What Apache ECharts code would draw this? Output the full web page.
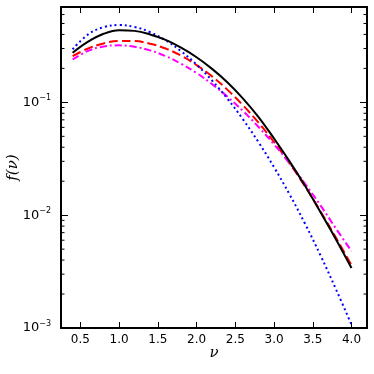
<!DOCTYPE html>
<html><head><meta charset="utf-8">
<script src="https://cdn.jsdelivr.net/npm/echarts@6/dist/echarts.min.js"></script>
<style>html,body{margin:0;padding:0;background:#fff}#c{width:374px;height:374px}</style>
</head><body><div id="c"></div>
<script>
const nu = [0.4,0.6,0.8,1.0,1.2,1.4,1.6,1.8,2.0,2.2,2.4,2.6,2.8,3.0,3.2,3.4,3.6,3.8,4.0];
const fBlack = [0.275,0.345,0.405,0.436,0.430,0.400,0.358,0.305,0.251,0.198,0.150,0.108,0.074,0.0478,0.0300,0.0182,0.0106,0.0061,0.0034];
const fBlue = [0.295,0.400,0.464,0.484,0.466,0.419,0.355,0.284,0.216,0.156,0.1075,0.0705,0.0443,0.0266,0.0153,0.0084,0.0044,0.0022,0.00107];
const fRed = [0.257,0.300,0.333,0.350,0.349,0.331,0.300,0.259,0.214,0.170,0.129,0.094,0.066,0.0445,0.0288,0.0180,0.0108,0.0063,0.0036];
const fMagenta = [0.240,0.286,0.313,0.320,0.311,0.289,0.257,0.220,0.182,0.145,0.112,0.0837,0.0605,0.0424,0.0289,0.0190,0.0122,0.0076,0.0048];
const xTicks = [0.5,1.0,1.5,2.0,2.5,3.0,3.5,4.0];
const yMinor = [0.002,0.003,0.004,0.005,0.006,0.007,0.008,0.009,0.02,0.03,0.04,0.05,0.06,0.07,0.08,0.09,0.2,0.3,0.4,0.5,0.6];
const xMin = 0.25, xMax = 4.2, yMin = 0.001, yMax = 0.7;

const pairs = arr => nu.map((v, i) => [v, arr[i]]);
const chart = echarts.init(document.getElementById('c'), null, {renderer: 'canvas'});
const axisLine = {show: true, lineStyle: {color: '#000', width: 2}};
const sup = e => (e < 0 ? '\u2212' : '') + Math.abs(e);

const option = {
  animation: false,
  backgroundColor: '#fff',
  grid: {left: 61, right: 7, top: 7, bottom: 46, containLabel: false, outerBoundsMode: 'none'},
  xAxis: [
    {type: 'value', min: xMin, max: xMax, position: 'bottom',
     axisLine, splitLine: {show: false},
     axisTick: {show: true, inside: true, length: 6, customValues: xTicks, lineStyle: {color: '#000', width: 1}},
     axisLabel: {customValues: xTicks, margin: 6, color: '#000', fontSize: 12, fontFamily: 'DejaVu Sans',
                 formatter: v => v.toFixed(1)},
     name: '\u03bd', nameLocation: 'middle', nameGap: 18, nameMoveOverlap: false,
     nameTextStyle: {fontFamily: 'DejaVu Serif', fontStyle: 'italic', fontSize: 15, color: '#000'}},
    {type: 'value', min: xMin, max: xMax, position: 'top',
     axisLine, splitLine: {show: false},
     axisTick: {show: true, inside: true, length: 6, customValues: xTicks, lineStyle: {color: '#000', width: 1}},
     axisLabel: {show: false}}
  ],
  yAxis: [
    {type: 'log', logBase: 10, min: yMin, max: yMax, position: 'left',
     axisLine, splitLine: {show: false}, minorTick: {show: false},
     axisTick: {show: true, inside: true, length: 7, lineStyle: {color: '#000', width: 1}},
     axisLabel: {margin: 10, showMaxLabel: false, color: '#000',
       formatter: v => '{b|10}{s|' + sup(Math.round(Math.log10(v))) + '}',
       rich: {b: {fontSize: 13, fontFamily: 'DejaVu Sans', color: '#000', lineHeight: 16},
              s: {fontSize: 8, fontFamily: 'DejaVu Sans', color: '#000', lineHeight: 8, verticalAlign: 'top'}}},
     name: 'f(\u03bd)', nameLocation: 'middle', nameGap: 40, nameRotate: 90, nameMoveOverlap: false,
     nameTextStyle: {fontFamily: 'DejaVu Serif', fontStyle: 'italic', fontSize: 15, color: '#000'}},
    {type: 'log', logBase: 10, min: yMin, max: yMax, position: 'right',
     axisLine, splitLine: {show: false},
     axisTick: {show: true, inside: true, length: 7, lineStyle: {color: '#000', width: 1}},
     axisLabel: {show: false}}
  ],
  series: [
    {type: 'line', data: pairs(fRed), showSymbol: false, smooth: 0.4,
     lineStyle: {color: '#ff0000', width: 2, type: [9, 4]}},
    {type: 'line', data: pairs(fMagenta), showSymbol: false, smooth: 0.4,
     lineStyle: {color: '#ff00ff', width: 2, type: [7, 3, 2, 3]}},
    {type: 'line', data: pairs(fBlue), showSymbol: false, smooth: 0.4,
     lineStyle: {color: '#0000ff', width: 2, type: [2, 3]}},
    {type: 'line', data: pairs(fBlack), showSymbol: false, smooth: 0.4,
     lineStyle: {color: '#000000', width: 2, type: 'solid'}}
  ]
};
chart.setOption(option);

// minor log ticks on left and right, placed through the chart's own y scale
const left = chart.convertToPixel({gridIndex: 0}, [xMin, yMin]);
const right = chart.convertToPixel({gridIndex: 0}, [xMax, yMin]);
const g = [];
yMinor.forEach(v => {
  const y = chart.convertToPixel({yAxisIndex: 0}, v);
  g.push({type: 'line', shape: {x1: left[0], y1: y, x2: left[0] + 3.5, y2: y}, style: {stroke: '#000', lineWidth: 1}, silent: true});
  g.push({type: 'line', shape: {x1: right[0], y1: y, x2: right[0] - 3.5, y2: y}, style: {stroke: '#000', lineWidth: 1}, silent: true});
});
chart.setOption({graphic: g});
</script></body></html>
